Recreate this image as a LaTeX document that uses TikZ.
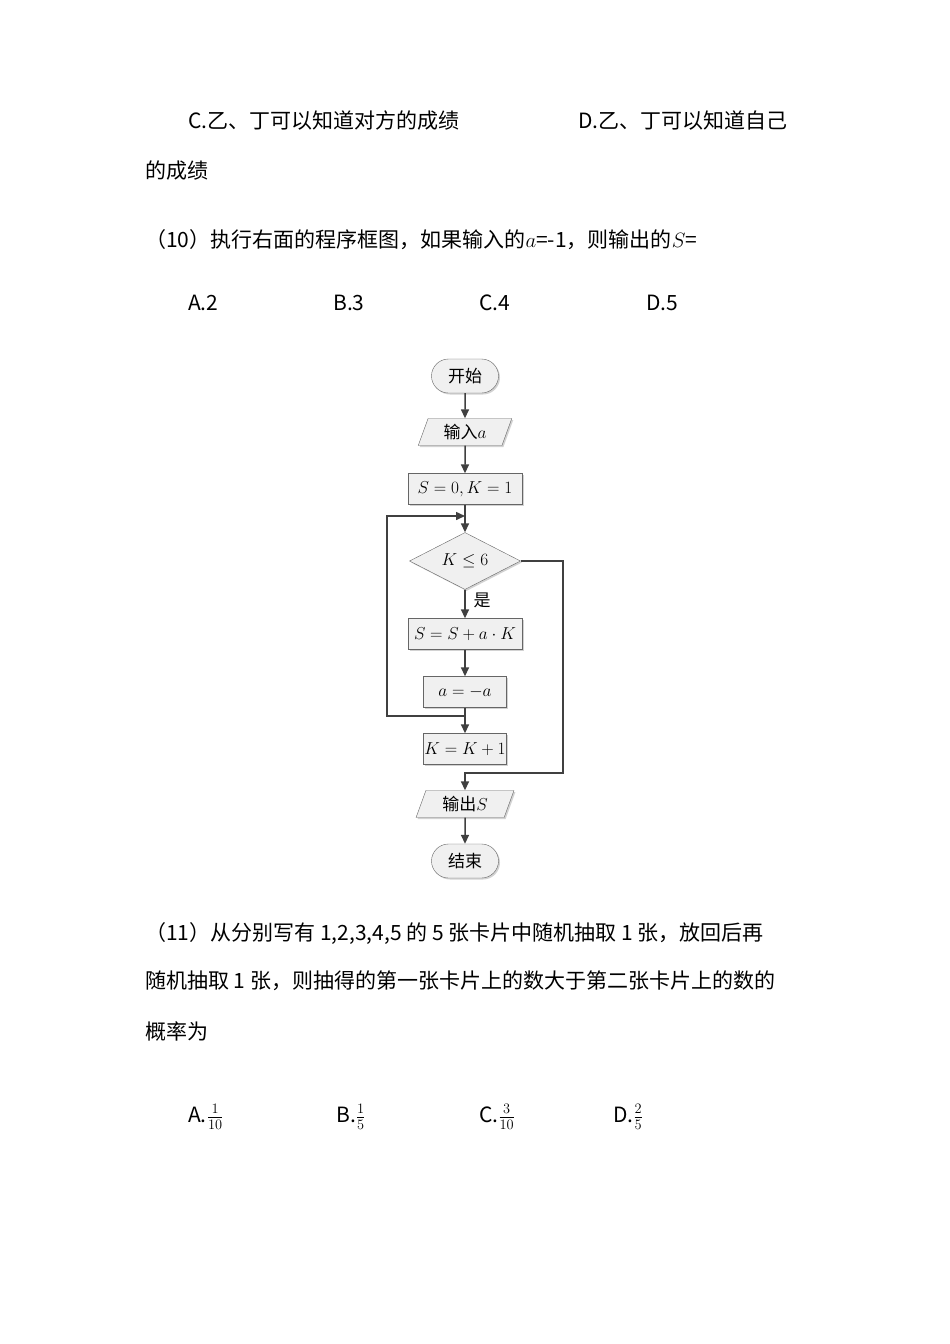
\documentclass[tikz,border=0pt]{standalone}
\usepackage{fontspec}
\setmainfont{Noto Sans CJK SC}
\usetikzlibrary{shapes.geometric,shapes.misc,arrows.meta,shadows}
\begin{document}
\begin{tikzpicture}[x=1pt,y=-1pt,
 txt/.style={anchor=west,inner sep=0,font=\fontsize{21}{25}\selectfont},
 fbox/.style={draw=gray!80!black,fill=gray!12,drop shadow={shadow xshift=1.5pt,shadow yshift=-1.5pt,opacity=.35},font=\fontsize{17}{20}\selectfont,inner sep=0},
 proc/.style={fbox,rectangle,minimum height=31pt},
 term/.style={fbox,rounded rectangle,minimum width=67pt,minimum height=34pt},
 io/.style={fbox,trapezium,trapezium left angle=70,trapezium right angle=110,minimum height=27pt,minimum width=80pt},
 dec/.style={fbox,diamond,aspect=2,minimum width=111pt,minimum height=57pt},
 ln/.style={draw=black!75,line width=1.5pt},
 arr/.style={ln,-{Triangle[length=9pt,width=8pt]}}]
\useasboundingbox (0,0) rectangle (950,1344);
\fill[white] (0,0) rectangle (950,1344);
\node[txt] (c) at (188,121) {C.乙、丁可以知道对方的成绩};
\node[txt] (d) at (578,121) {D.乙、丁可以知道自己};
\node[txt] (d2) at (145,171) {的成绩};
\node[txt] (q10) at (145,240) {（10）执行右面的程序框图，如果输入的$a$=-1，则输出的$S$=};
\node[txt] (a1) at (188,303) {A.2};
\node[txt] (b1) at (333,303) {B.3};
\node[txt] (c1) at (479,303) {C.4};
\node[txt] (d1) at (646,303) {D.5};
\node[txt] (q11a) at (145,933) {（11）从分别写有 1,2,3,4,5 的 5 张卡片中随机抽取 1 张，放回后再};
\node[txt] (q11b) at (145,981) {随机抽取 1 张，则抽得的第一张卡片上的数大于第二张卡片上的数的};
\node[txt] (q11c) at (145,1031) {概率为};
\node[txt] (a2) at (188,1117) {A.$\frac{1}{10}$};
\node[txt] (b2) at (336,1117) {B.$\frac{1}{5}$};
\node[txt] (c2) at (479,1117) {C.$\frac{3}{10}$};
\node[txt] (d2b) at (613,1117) {D.$\frac{2}{5}$};

\node[term] (st) at (465,376) {开始};
\node[io] (in) at (465,432) {输入$a$};
\node[proc,minimum width=114pt] (init) at (465,489) {$S=0,K=1$};
\node[dec] (dk) at (465,561) {$K\le 6$};
\node[proc,minimum width=114pt] (upd) at (465,634) {$S=S+a\cdot K$};
\node[proc,minimum width=83pt] (neg) at (465,692) {$a=-a$};
\node[proc,minimum width=83pt] (inc) at (465,749) {$K=K+1$};
\node[io] (out) at (465,804) {输出$S$};
\node[term] (en) at (465,861) {结束};
\node[font=\fontsize{17}{20}\selectfont] (yes) at (482,600) {是};
\coordinate (top) at (465,516);
\coordinate (mid) at (465,716);
\coordinate (bot) at (465,773);
\draw[arr] (st) -- (in);
\draw[arr] (in) -- (init);
\draw[arr] (init) -- (dk);
\draw[arr] (dk) -- (upd);
\draw[arr] (upd) -- (neg);
\draw[arr] (neg) -- (inc);
\draw[arr] (mid) -- (387,716) -- (387,516) -- (top);
\draw[arr] (dk.east) -- (563,561) -- (563,773) -- (bot) -- (out);
\draw[arr] (out) -- (en);
\end{tikzpicture}
\end{document}
